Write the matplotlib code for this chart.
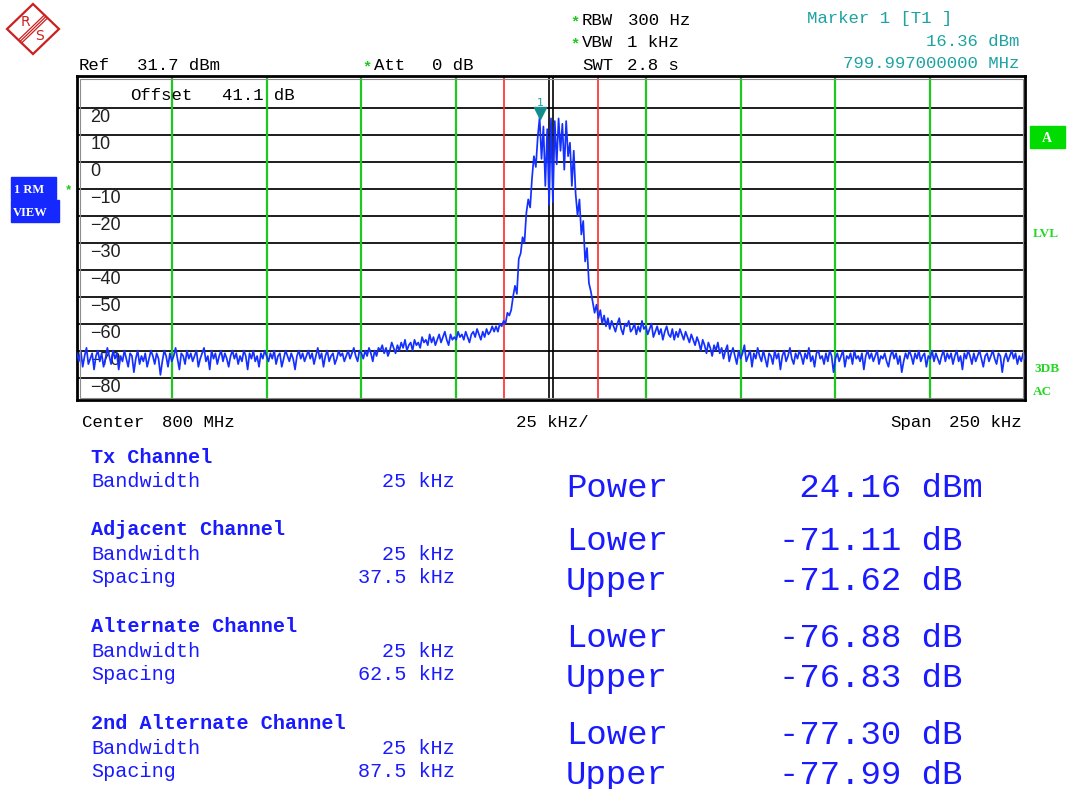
import numpy as np
import matplotlib
matplotlib.use("Agg")
import matplotlib.pyplot as plt
from matplotlib.patches import Rectangle, Polygon

W, H = 1068, 789

# instrument settings
center_mhz = 800
span_khz = 250
ref_level = 31.7
db_per_div = 10
n_points = 501

tx_bw_khz = 25
ch_names = ["Adjacent Channel", "Alternate Channel", "2nd Alternate Channel"]
ch_spacing_khz = [37.5, 62.5, 87.5]
ch_bw_khz = [25, 25, 25]

marker_khz = -3.0
marker_dbm = 16.36

tx_power = 24.16
acp_lower = [-71.11, -76.88, -77.30]
acp_upper = [-71.62, -76.83, -77.99]

# trace (dBm), 0.5 kHz per point
noise_left = [  # -125 .. -45.5 kHz
    -71, -74, -70, -76, -72, -69, -75, -73, -71, -77, -72, -70, -74, -71, -76, -73, -69, -72, -75, -70,
    -73, -71, -77, -72, -74, -70, -73, -76, -71, -72, -78, -73, -70, -75, -72, -74, -71, -76, -73, -70,
    -72, -75, -71, -73, -79, -74, -70, -72, -76, -71, -74, -72, -69, -73, -77, -71, -72, -75, -70, -73,
    -71, -74, -72, -70, -76, -73, -71, -69, -74, -72, -77, -70, -73, -71, -75, -72, -70, -74, -71, -73,
    -76, -72, -70, -73, -71, -75, -72, -74, -70, -72, -77, -71, -73, -70, -74, -72, -76, -71, -73, -70,
    -72, -74, -71, -73, -70, -75, -72, -71, -76, -73, -70, -72, -74, -71, -73, -77, -72, -70, -73, -71,
    -74, -72, -70, -73, -71, -75, -72, -69, -73, -71, -76, -72, -70, -74, -72, -71, -75, -73, -70, -72,
    -71, -74, -72, -70, -73, -71, -69, -72, -74, -70, -71, -73, -70, -72, -69, -71, -74, -70, -72, -69,
]
skirt_left = [  # -45 .. -5.5 kHz
    -70, -68, -71, -69, -72, -70, -67, -69, -71, -68, -70, -67, -69, -66, -70, -68, -67, -70, -66, -68,
    -67, -69, -65, -67, -66, -68, -64, -67, -65, -68, -66, -64, -67, -65, -63, -66, -68, -64, -66, -65,
    -66, -63, -65, -64, -66, -63, -65, -67, -64, -63, -65, -62, -64, -66, -63, -65, -62, -64, -63, -61,
    -63, -61, -63, -60, -61, -59, -60, -56, -57, -55, -50, -46, -49, -36, -34, -28, -30, -19, -14, -17,
]
carrier = [  # -5 .. 4.5 kHz
    -6, 2, -2, 9, 16.36, 1, 13, -9, 12, -16, 16, -15, 15, -1, 16, 4, 14, -3, 15, 2,
]
skirt_right = [  # 5 .. 44.5 kHz
    7, -9, 4, -12, -20, -14, -27, -22, -37, -32, -45, -48, -52, -56, -53, -58, -55, -60, -57, -61,
    -58, -62, -59, -61, -63, -60, -58, -62, -64, -60, -61, -59, -63, -62, -60, -64, -61, -63, -59, -62,
    -61, -64, -62, -60, -65, -63, -61, -64, -62, -66, -63, -61, -64, -65, -62, -66, -63, -65, -62, -64,
    -66, -63, -65, -67, -64, -66, -68, -65, -67, -70, -66, -68, -71, -67, -69, -72, -68, -70, -67, -71,
]
noise_right = [  # 45 .. 125 kHz
    -69, -73, -70, -68, -74, -71, -69, -72, -75, -70, -73, -71, -68, -74, -72, -70, -76, -71, -73, -69,
    -72, -74, -70, -73, -76, -71, -72, -75, -70, -73, -71, -77, -72, -70, -74, -72, -69, -73, -75, -71,
    -73, -70, -72, -75, -71, -73, -69, -74, -72, -76, -71, -70, -73, -72, -75, -71, -74, -70, -72, -78,
    -73, -71, -74, -72, -70, -76, -72, -73, -71, -75, -70, -73, -72, -74, -71, -77, -72, -70, -73, -71,
    -74, -72, -70, -75, -72, -73, -71, -74, -76, -72, -70, -73, -71, -75, -72, -78, -74, -71, -73, -70,
    -72, -75, -71, -73, -70, -74, -72, -71, -76, -72, -73, -70, -74, -71, -73, -75, -72, -70, -74, -71,
    -73, -71, -75, -72, -70, -74, -72, -77, -71, -73, -70, -72, -75, -71, -74, -72, -70, -73, -76, -72,
    -71, -74, -72, -70, -73, -75, -71, -72, -78, -73, -71, -74, -72, -70, -73, -71, -75, -72, -74, -71,
    -73,
]

MONO = "Liberation Mono"
BLUE = "#1a1aff"
TEAL = "#1ea3a3"
GREEN = "#1ec81e"

fig = plt.figure(figsize=(W / 100, H / 100), dpi=100)
fig.patch.set_facecolor("white")

# screen area in pixels
L, T, PW, PH = 77, 76, 948, 324
ax = fig.add_axes([L / W, 1 - (T + PH) / H, PW / W, PH / H])
freq = np.linspace(-span_khz / 2, span_khz / 2, n_points)
trace = np.array(noise_left + skirt_left + carrier + skirt_right + noise_right)

ax.set_xlim(-span_khz / 2, span_khz / 2)
ax.set_ylim(ref_level - 12 * db_per_div, ref_level)
ax.set_xticks([])
ax.set_yticks([])
for sp in ax.spines.values():
    sp.set_linewidth(2)
    sp.set_color("black")

for v in range(-80, 21, 10):
    ax.axhline(v, color="#1c1c1c", lw=1.4, zorder=1)
    lab = str(v).replace("-", "\u2212")
    ax.text(0.014, v - 0.4, lab, transform=ax.get_yaxis_transform(), va="top", ha="left",
            fontsize=13, family="Liberation Sans", color="#202020", zorder=2)

edges = set()
for s, b in zip(ch_spacing_khz, ch_bw_khz):
    edges.update([s - b / 2, s + b / 2])
for e in sorted(edges):
    if e < span_khz / 2:
        ax.axvline(e, color=GREEN, lw=1.6, zorder=2)
        ax.axvline(-e, color=GREEN, lw=1.6, zorder=2)
ax.axvline(-tx_bw_khz / 2, color="#ff2a2a", lw=1.2, zorder=2)
ax.axvline(tx_bw_khz / 2, color="#ff2a2a", lw=1.2, zorder=2)
ax.axvline(-0.4, color="black", lw=1.2, zorder=2)
ax.axvline(0.4, color="black", lw=1.2, zorder=2)

ax.plot(freq, trace, color="#1430ff", lw=1.25, zorder=4)
ax.plot(marker_khz, marker_dbm + 1.8, marker="v", ms=8, color="#128c8c", zorder=5)
ax.text(marker_khz + 0.3, marker_dbm + 3.5, "1", color=TEAL, fontsize=8, ha="center",
        va="bottom", family="DejaVu Sans", zorder=5)

# overlay in pixel coordinates for all the screen annotations
ov = fig.add_axes([0, 0, 1, 1])
ov.set_xlim(0, W)
ov.set_ylim(H, 0)
ov.axis("off")
ov.patch.set_alpha(0)
ov.add_patch(Rectangle((79.5, 79), PW - 5, PH - 5, fill=False, ec="#8c8c8c", lw=0.8))


def txt(x, y, s, size=12.5, color="black", ha="left", weight="normal", family=MONO, va="baseline"):
    ov.text(x, y, s, fontsize=size, color=color, ha=ha, va=va, fontweight=weight, family=family)


# R&S logo
red = "#cc1f1f"
ov.add_patch(Polygon([(7, 29), (33, 4), (59, 29), (33, 54)], closed=True, fill=False, ec=red, lw=1.6))
for off in (-2.2, 0, 2.2):
    ov.plot([20 + off * 0.69, 46 + off * 0.69], [41.5 + off * 0.72, 16.5 + off * 0.72], color=red, lw=0.9)
txt(25, 22, "R", size=10, color=red, ha="center", va="center", family="DejaVu Sans")
txt(40, 36, "S", size=10, color=red, ha="center", va="center", family="DejaVu Sans")

# header
txt(570, 26, "*", color=GREEN, weight="bold", size=11)
txt(582, 25, "RBW")
txt(628, 25, "300 Hz")
txt(570, 48, "*", color=GREEN, weight="bold", size=11)
txt(582, 47, "VBW")
txt(627, 47, "1 kHz")
txt(582, 70, "SWT")
txt(627, 70, "2.8 s")
txt(79, 70, "Ref")
txt(137, 70, f"{ref_level} dBm")
txt(362, 71, "*", color=GREEN, weight="bold", size=11)
txt(374, 70, "Att")
txt(432, 70, "0 dB")
txt(807, 23, "Marker 1 [T1 ]", color=TEAL)
txt(1019, 46, f"{marker_dbm:.2f} dBm", color=TEAL, ha="right")
txt(1019, 68, f"{center_mhz + marker_khz / 1000:.9f} MHz", color=TEAL, ha="right")
txt(130, 100, "Offset")
txt(222, 100, "41.1 dB")

# left side labels
ov.add_patch(Rectangle((11, 177), 45, 22, color="#1428ff"))
ov.add_patch(Rectangle((11, 200), 48, 22, color="#1428ff"))
txt(14, 193, "1 RM", size=9, color="white", weight="bold", family="Liberation Serif")
txt(13, 216, "VIEW", size=9, color="white", weight="bold", family="Liberation Serif")
txt(68, 193, "*", size=9, color=GREEN, weight="bold", ha="center")

# right side labels
ov.add_patch(Rectangle((1030, 126), 35, 22, color="#00dc00"))
txt(1047, 142, "A", size=10, color="white", weight="bold", family="Liberation Serif", ha="center")
txt(1033, 237, "LVL", size=9.5, color="#22d822", weight="bold", family="Liberation Serif")
txt(1034, 372, "3DB", size=9.5, color="#22d822", weight="bold", family="Liberation Serif")
txt(1033, 395, "AC", size=9.5, color="#22d822", weight="bold", family="Liberation Serif")

# frequency axis annotation
txt(82, 427, "Center")
txt(162, 427, f"{center_mhz} MHz")
txt(516, 427, f"{span_khz // 10} kHz/")
txt(890, 427, "Span")
txt(1022, 427, f"{span_khz} kHz", ha="right")

# channel table
txt(91, 463, "Tx Channel", size=14.5, color=BLUE, weight="bold")
txt(91, 487, "Bandwidth", size=14.5, color=BLUE)
txt(455, 487, f"{tx_bw_khz} kHz", size=14.5, color=BLUE, ha="right")
for i, name in enumerate(ch_names):
    y0 = 535 + 97 * i
    txt(91, y0, name, size=14.5, color=BLUE, weight="bold")
    txt(91, y0 + 25, "Bandwidth", size=14.5, color=BLUE)
    txt(455, y0 + 25, f"{ch_bw_khz[i]} kHz", size=14.5, color=BLUE, ha="right")
    txt(91, y0 + 48, "Spacing", size=14.5, color=BLUE)
    txt(455, y0 + 48, f"{ch_spacing_khz[i]} kHz", size=14.5, color=BLUE, ha="right")

txt(566, 497, "Power", size=24.5, color=BLUE)
txt(779, 497, f"{tx_power:6.2f} dBm", size=24.5, color=BLUE)
for i in range(3):
    y0 = 550 + 97 * i
    txt(566, y0, "Lower", size=24.5, color=BLUE)
    txt(779, y0, f"{acp_lower[i]:6.2f} dB", size=24.5, color=BLUE)
    txt(566, y0 + 40, "Upper", size=24.5, color=BLUE)
    txt(779, y0 + 40, f"{acp_upper[i]:6.2f} dB", size=24.5, color=BLUE)

fig.savefig("out.png", dpi=100)
